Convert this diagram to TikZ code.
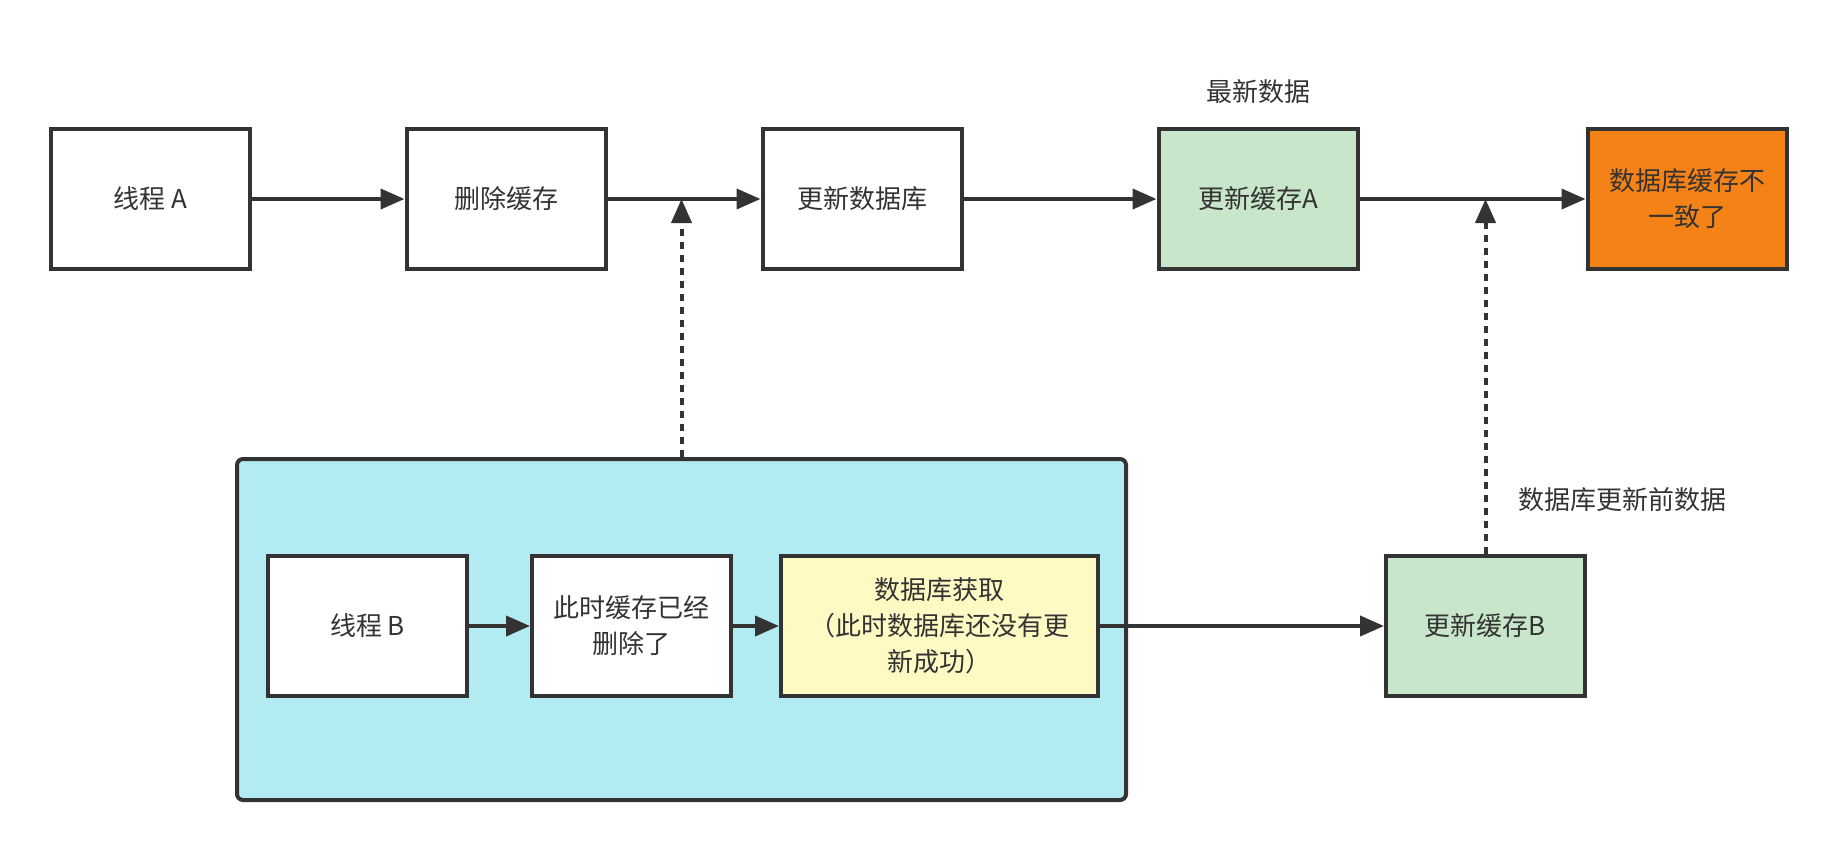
\documentclass[tikz,border=0pt]{standalone}
\usepackage{fontspec}
\setmainfont{Noto Sans CJK SC}
\usepackage{xcolor}
\usetikzlibrary{arrows.meta,positioning}
\definecolor{inkgray}{RGB}{51,51,51}
\definecolor{cachegreen}{RGB}{200,230,201}
\definecolor{alertorange}{RGB}{245,130,23}
\definecolor{readyellow}{RGB}{255,249,196}
\definecolor{groupcyan}{RGB}{178,235,242}
\tikzset{
    stepbase/.style={
        rectangle,
        draw=inkgray,
        line width=2pt,
        minimum width=99.5pt,
        minimum height=70pt,
        align=center,
        text=inkgray,
        fill=white
    },
    plainnode/.style={stepbase},
    cachenode/.style={stepbase, fill=cachegreen},
    alertnode/.style={stepbase, fill=alertorange},
    readnode/.style={stepbase, fill=readyellow, minimum width=158.5pt},
    groupbox/.style={rectangle, rounded corners=3pt, draw=inkgray, line width=2pt, fill=groupcyan, minimum width=444.5pt, minimum height=170.5pt},
    note/.style={text=inkgray, align=center},
    line/.style={-{Triangle[length=12pt,width=10pt]}, line width=2pt, draw=inkgray},
    dashline/.style={line, dash pattern=on 3.5pt off 3pt},
}
\begin{document}
\begin{tikzpicture}[x=0.5pt, y=-0.5pt, font=\fontsize{13}{18}\selectfont]
    \useasboundingbox (0,0) rectangle (1836,851);

    % thread A
    \node[plainnode] (threadA) at (150,199) {线程 A};
    \node[plainnode, right=76.5pt of threadA] (delcache) {删除缓存};
    \node[plainnode, right=76.5pt of delcache] (upddb) {更新数据库};
    \node[cachenode, right=96.5pt of upddb] (updcacheA) {更新缓存A};
    \node[alertnode, right=113pt of updcacheA] (mismatch) {数据库缓存不\\一致了};
    \node[note, above=8pt of updcacheA] (newest) {最新数据};

    % thread B
    \node[groupbox] (groupB) at (681.5,629.5) {};
    \node[plainnode] (threadB) at (367.5,626) {线程 B};
    \node[plainnode, right=30.5pt of threadB] (cachegone) {此时缓存已经\\删除了};
    \node[readnode, right=23pt of cachegone] (dbread) {数据库获取\\（此时数据库还没有更\\新成功）};
    \node[cachenode, right=142pt of dbread] (updcacheB) {更新缓存B};
    \node[note] (olddata) at (1622,500) {数据库更新前数据};

    \coordinate (tapA) at (groupB.north |- delcache.east);
    \coordinate (tapB) at (updcacheB.north |- updcacheA.east);

    \draw[line] (threadA) -- (delcache);
    \draw[line] (delcache) -- (upddb);
    \draw[line] (upddb) -- (updcacheA);
    \draw[line] (updcacheA) -- (mismatch);
    \draw[line] (threadB) -- (cachegone);
    \draw[line] (cachegone) -- (dbread);
    \draw[line] (dbread) -- (updcacheB);
    \draw[dashline] (groupB.north) -- (tapA);
    \draw[dashline] (updcacheB.north) -- (tapB);
\end{tikzpicture}
\end{document}
